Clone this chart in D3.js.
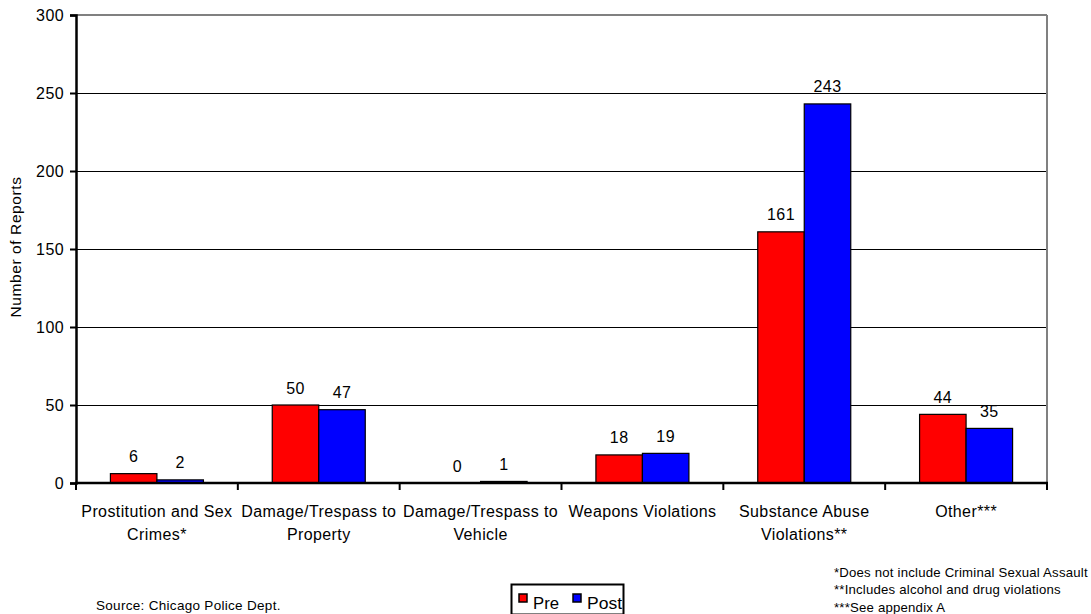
<!DOCTYPE html>
<html>
<head>
<meta charset="utf-8">
<script src="https://cdn.jsdelivr.net/npm/d3@7"></script>
<style>
  html, body { margin: 0; padding: 0; background: #fff; }
  svg { display: block; font-family: "Liberation Sans", Arial, sans-serif; }
</style>
</head>
<body>
<svg id="chart" width="1091" height="614"></svg>
<script>
// Reports by category, before and after
const categories = [
  ["Prostitution and Sex", "Crimes*"],
  ["Damage/Trespass to", "Property"],
  ["Damage/Trespass to", "Vehicle"],
  ["Weapons Violations"],
  ["Substance Abuse", "Violations**"],
  ["Other***"]
];
const preValues  = [6, 50, 0, 18, 161, 44];
const postValues = [2, 47, 1, 19, 243, 35];
const seriesNames = ["Pre", "Post"];
const seriesColors = ["#ff0000", "#0000ff"];
const yTicks = [0, 50, 100, 150, 200, 250, 300];
const footnotes = [
  "*Does not include Criminal Sexual Assault",
  "**Includes alcohol and drug violations",
  "***See appendix A"
];
const sourceNote = "Source: Chicago Police Dept.";

const FONT = "'Liberation Sans', Arial, sans-serif";
const svg = d3.select("#chart");
const plot = { left: 76, right: 1047, top: 15, bottom: 483 };

const x = d3.scaleBand()
  .domain(d3.range(categories.length))
  .range([plot.left, plot.right])
  .paddingInner(0)
  .paddingOuter(0);

const inner = d3.scaleBand()
  .domain(seriesNames)
  .range([0, x.bandwidth()])
  .paddingOuter(0.74)
  .paddingInner(0);

const y = d3.scaleLinear().domain([0, 300]).range([plot.bottom, plot.top]);

// horizontal gridlines
svg.append("g")
  .selectAll("line")
  .data(yTicks.filter(t => t > 0 && t < 300))
  .join("line")
  .attr("x1", plot.left).attr("x2", plot.right)
  .attr("y1", d => y(d)).attr("y2", d => y(d))
  .attr("stroke", "#000").attr("stroke-width", 1)
  .attr("shape-rendering", "crispEdges");

// plot frame (top and right in grey)
svg.append("line")
  .attr("x1", plot.left).attr("x2", plot.right)
  .attr("y1", y(300)).attr("y2", y(300))
  .attr("stroke", "#808080").attr("stroke-width", 1.5)
  .attr("shape-rendering", "crispEdges");
svg.append("line")
  .attr("x1", plot.right).attr("x2", plot.right)
  .attr("y1", y(300)).attr("y2", plot.bottom)
  .attr("stroke", "#808080").attr("stroke-width", 1.5)
  .attr("shape-rendering", "crispEdges");

// bars
const data = categories.map((c, i) => ({ i, values: [preValues[i], postValues[i]] }));
const groups = svg.append("g").selectAll("g")
  .data(data)
  .join("g")
  .attr("transform", d => `translate(${x(d.i)},0)`);

groups.selectAll("rect")
  .data(d => d.values.map((v, k) => ({ v, k })))
  .join("rect")
  .attr("x", d => inner(seriesNames[d.k]))
  .attr("width", inner.bandwidth())
  .attr("y", d => y(d.v))
  .attr("height", d => y(0) - y(d.v))
  .attr("fill", d => seriesColors[d.k])
  .attr("stroke", "#000")
  .attr("stroke-width", 1.2);

// value labels
groups.selectAll("text")
  .data(d => d.values.map((v, k) => ({ v, k })))
  .join("text")
  .attr("x", d => inner(seriesNames[d.k]) + inner.bandwidth() / 2)
  .attr("y", d => y(d.v) - 11.5)
  .attr("text-anchor", "middle")
  .attr("font-size", 16)
  .attr("letter-spacing", 0.4)
  .attr("fill", "#000")
  .text(d => d.v);

// y axis
const yAxis = svg.append("g")
  .attr("transform", `translate(${plot.left},0)`)
  .call(d3.axisLeft(y).tickValues(yTicks).tickSize(6).tickPadding(6).tickFormat(d3.format("d")));
yAxis.select(".domain").attr("stroke", "#000").attr("stroke-width", 2.5);
yAxis.selectAll(".tick line").attr("stroke", "#000").attr("stroke-width", 2);
yAxis.selectAll(".tick text")
  .attr("font-size", 16).attr("fill", "#000")
  .attr("letter-spacing", 0.4)
  .attr("font-family", FONT);

// x axis with boundary ticks
const xAxisG = svg.append("g");
xAxisG.append("line")
  .attr("x1", plot.left - 1).attr("x2", plot.right + 1)
  .attr("y1", plot.bottom).attr("y2", plot.bottom)
  .attr("stroke", "#000").attr("stroke-width", 2.5);
const bounds = d3.range(categories.length + 1).map(i => i < categories.length ? x(i) : x(i - 1) + x.bandwidth());
xAxisG.selectAll("line.tk")
  .data(bounds)
  .join("line")
  .attr("class", "tk")
  .attr("x1", d => d).attr("x2", d => d)
  .attr("y1", plot.bottom).attr("y2", plot.bottom + 7)
  .attr("stroke", "#000").attr("stroke-width", 2);

// category labels
const catLabels = svg.append("g").selectAll("text")
  .data(categories.map((c, i) => ({ c, i })))
  .join("text")
  .attr("x", d => x(d.i) + x.bandwidth() / 2)
  .attr("y", 517)
  .attr("text-anchor", "middle")
  .attr("font-size", 16)
  .attr("letter-spacing", 0.4)
  .attr("fill", "#000");
catLabels.selectAll("tspan")
  .data(d => d.c.map((line, j) => ({ line, j, cx: x(d.i) + x.bandwidth() / 2 })))
  .join("tspan")
  .attr("x", d => d.cx)
  .attr("dy", d => d.j === 0 ? 0 : 23)
  .text(d => d.line);

// y axis title
svg.append("text")
  .attr("transform", `translate(21,${247}) rotate(-90)`)
  .attr("text-anchor", "middle")
  .attr("font-size", 15.5)
  .attr("letter-spacing", 0.6)
  .attr("fill", "#000")
  .text("Number of Reports");

// source note
svg.append("text")
  .attr("x", 96).attr("y", 610)
  .attr("font-size", 13.5)
  .attr("letter-spacing", 0.3)
  .attr("fill", "#000")
  .text(sourceNote);

// footnotes
svg.append("g").selectAll("text")
  .data(footnotes)
  .join("text")
  .attr("x", 834)
  .attr("y", (d, i) => 577 + i * 17.3)
  .attr("font-size", 13.2)
  .attr("letter-spacing", 0.2)
  .attr("fill", "#000")
  .text(d => d);

// legend
const legend = svg.append("g");
legend.append("rect")
  .attr("x", 511.5).attr("y", 584.5)
  .attr("width", 112).attr("height", 30)
  .attr("fill", "#fff").attr("stroke", "#000").attr("stroke-width", 2);
const legendX = [519, 573];
const legendItems = legend.selectAll("g.item")
  .data(seriesNames)
  .join("g")
  .attr("class", "item")
  .attr("transform", (d, i) => `translate(${legendX[i]},0)`);
legendItems.append("rect")
  .attr("x", 0).attr("y", 594)
  .attr("width", 8).attr("height", 8)
  .attr("fill", (d, i) => seriesColors[i])
  .attr("stroke", "#000").attr("stroke-width", 1.5);
legendItems.append("text")
  .attr("x", 14).attr("y", 609)
  .attr("font-size", 16)
  .attr("fill", "#000")
  .attr("textLength", (d, i) => i === 0 ? 26 : 35)
  .attr("lengthAdjust", "spacingAndGlyphs")
  .text(d => d);
</script>
</body>
</html>
